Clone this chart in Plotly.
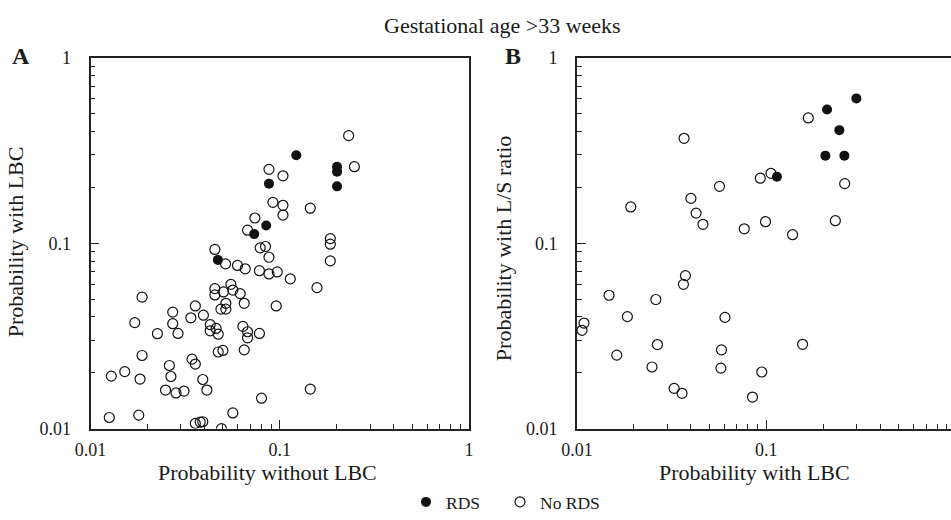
import plotly.graph_objects as go

# ---------------- data ----------------
# Panel A: x = probability without LBC, y = probability with LBC
a_rds_x = [0.1223, 0.0877, 0.2008, 0.2008, 0.2008, 0.0848, 0.0733, 0.0471]
a_rds_y = [0.298, 0.2096, 0.2587, 0.2433, 0.2027, 0.1245, 0.1120, 0.0813]

a_no_x = [0.0877, 0.1040, 0.0920, 0.1040, 0.1040, 0.0739, 0.0676, 0.2312, 0.2479, 0.1450,
          0.1850, 0.1850, 0.1850, 0.1137, 0.1573, 0.1450, 0.0970, 0.0958, 0.0454, 0.0517,
          0.0598, 0.0657, 0.0788, 0.0841, 0.0877, 0.0781, 0.0877, 0.01873, 0.0454, 0.0454,
          0.0504, 0.0552, 0.0565, 0.0618, 0.0519, 0.0489, 0.0519, 0.0649, 0.0358, 0.0272,
          0.01714, 0.0272, 0.0339, 0.0395, 0.02257, 0.0290, 0.0429, 0.0429, 0.0461, 0.0473,
          0.0639, 0.0676, 0.0676, 0.0781, 0.01873, 0.0473, 0.0501, 0.0649, 0.0344, 0.0358,
          0.0261, 0.01517, 0.01288, 0.01827, 0.0266, 0.0392, 0.0249, 0.0283, 0.0312, 0.0412,
          0.0801, 0.01257, 0.01799, 0.0565, 0.0358, 0.0380, 0.0392, 0.0492]
a_no_y = [0.2503, 0.2310, 0.1662, 0.1602, 0.1419, 0.1368, 0.1176, 0.3805, 0.2587, 0.1545,
          0.1059, 0.0988, 0.0803, 0.0642, 0.0576, 0.01633, 0.0700, 0.0459, 0.0926, 0.0774,
          0.0759, 0.0728, 0.0944, 0.0960, 0.0840, 0.0711, 0.0683, 0.0512, 0.0569, 0.0526,
          0.0546, 0.0600, 0.0559, 0.0535, 0.0474, 0.0441, 0.0441, 0.0474, 0.0459, 0.0425,
          0.0373, 0.0368, 0.0396, 0.0409, 0.0325, 0.0326, 0.0364, 0.0337, 0.0347, 0.0323,
          0.0356, 0.0333, 0.0309, 0.0326, 0.0248, 0.0259, 0.0264, 0.0266, 0.0237, 0.0223,
          0.0219, 0.0203, 0.0192, 0.0185, 0.0191, 0.0184, 0.01614, 0.01557, 0.01594, 0.01614,
          0.01459, 0.01148, 0.01182, 0.01215, 0.01066, 0.01085, 0.01089, 0.0100]

# Panel B: x = probability with LBC, y = probability with L/S ratio
b_rds_x = [0.2994, 0.2096, 0.2433, 0.2053, 0.2587, 0.1139]
b_rds_y = [0.6046, 0.5262, 0.4075, 0.2969, 0.2969, 0.2282]

b_no_x = [0.0368, 0.0566, 0.0930, 0.1059, 0.01924, 0.0400, 0.0426, 0.0463, 0.0765, 0.1668,
          0.2597, 0.0991, 0.1378, 0.2318, 0.01477, 0.01089, 0.01063, 0.01846, 0.0261, 0.0374,
          0.0365, 0.0605, 0.01622, 0.0266, 0.0249, 0.0580, 0.0576, 0.0947, 0.0326, 0.0359,
          0.0846, 0.1556]
b_no_y = [0.3683, 0.2027, 0.2243, 0.2383, 0.1570, 0.1745, 0.1454, 0.1265, 0.1196, 0.4740,
          0.2096, 0.1307, 0.1112, 0.1323, 0.0524, 0.0371, 0.0339, 0.0402, 0.0497, 0.0669,
          0.0600, 0.0398, 0.0249, 0.0284, 0.0215, 0.0266, 0.0212, 0.0202, 0.01648, 0.01550,
          0.01480, 0.0285]

tick_vals = [0.01, 0.1, 1]
tick_text = ["0.01", "0.1", "1"]
minor_vals = [0.02, 0.03, 0.04, 0.05, 0.06, 0.07, 0.08, 0.09,
              0.2, 0.3, 0.4, 0.5, 0.6, 0.7, 0.8, 0.9]

# ---------------- figure ----------------
W, H = 951, 520
SERIF = "Liberation Serif, Times New Roman, Times, DejaVu Serif, serif"
LINE = "#222222"
TXT = "#1a1a1a"

fig = go.Figure()

open_marker = dict(symbol="circle-open", size=10, color="#111111", line=dict(width=1.2, color="#111111"))
fill_marker = dict(symbol="circle", size=10, color="#111111", line=dict(width=0))

fig.add_trace(go.Scatter(x=a_no_x, y=a_no_y, mode="markers", marker=open_marker,
                         name="No RDS", legendrank=2, legendwidth=90, xaxis="x", yaxis="y"))
fig.add_trace(go.Scatter(x=a_rds_x, y=a_rds_y, mode="markers", marker=fill_marker,
                         name="RDS", legendrank=1, legendwidth=49, xaxis="x", yaxis="y"))
fig.add_trace(go.Scatter(x=b_no_x, y=b_no_y, mode="markers", marker=open_marker,
                         name="No RDS", showlegend=False, xaxis="x2", yaxis="y2"))
fig.add_trace(go.Scatter(x=b_rds_x, y=b_rds_y, mode="markers", marker=fill_marker,
                         name="RDS", showlegend=False, xaxis="x2", yaxis="y2"))

y_dom = [(H - 437) / H, (H - 59) / H]
xa_dom = [90.5 / W, 469 / W]
xb_dom = [577 / W, 1.0]
decade = (469 - 90.5) / 2
xb_max = -2 + (W - 577) / decade

def axis(rng, dom, mirror, anchor, standoff):
    return dict(
        type="log", range=rng, domain=dom, anchor=anchor,
        showgrid=False, zeroline=False,
        showline=True, linecolor=LINE, linewidth=1.6, mirror=mirror,
        ticks="inside", ticklen=9, tickwidth=1.2, tickcolor=LINE,
        tickmode="array", tickvals=tick_vals, ticktext=tick_text,
        tickfont=dict(family=SERIF, size=18, color=TXT),
        ticklabelstandoff=standoff,
        minor=dict(ticks="inside", ticklen=5, tickwidth=1, tickcolor=LINE,
                   tickmode="array", tickvals=minor_vals, showgrid=False),
        automargin=False,
    )

fig.update_layout(
    width=W, height=H,
    margin=dict(l=0, r=0, t=0, b=0),
    paper_bgcolor="white", plot_bgcolor="white",
    xaxis=axis([-2, 0], xa_dom, True, "y", 4),
    yaxis=axis([-2, 0], y_dom, True, "x", 14),
    xaxis2=axis([-2, xb_max], xb_dom, True, "y2", 4),
    yaxis2=axis([-2, 0], y_dom, False, "x2", 14),
    showlegend=True,
    legend=dict(orientation="h", x=406 / W, xanchor="left", y=8 / H, yanchor="middle",
                font=dict(family=SERIF, size=17.5, color=TXT),
                bgcolor="rgba(0,0,0,0)", itemwidth=30, traceorder="normal"),
    font=dict(family=SERIF, color=TXT),
)

def ann(text, x, y, size, angle=0, bold=False):
    fig.add_annotation(text=f"<b>{text}</b>" if bold else text,
                       x=x / W, y=1 - y / H, xref="paper", yref="paper",
                       xanchor="center", yanchor="middle", showarrow=False,
                       textangle=angle, font=dict(family=SERIF, size=size, color=TXT))

ann("Gestational age &gt;33 weeks", 502, 26, 22)
ann("A", 21, 57, 24, bold=True)
ann("B", 513, 57, 24, bold=True)
ann("Probability without LBC", 267, 482, 22)
ann("Probability with LBC", 754, 482, 22)
ann("Probability with LBC", 15, 247, 22, angle=-90)
ann("Probability with L/S ratio", 503, 253, 22, angle=-90)

fig.write_html("out.html",
               config={"displayModeBar": False},
               post_script="document.body.style.margin='0';document.body.style.overflow='hidden';")
